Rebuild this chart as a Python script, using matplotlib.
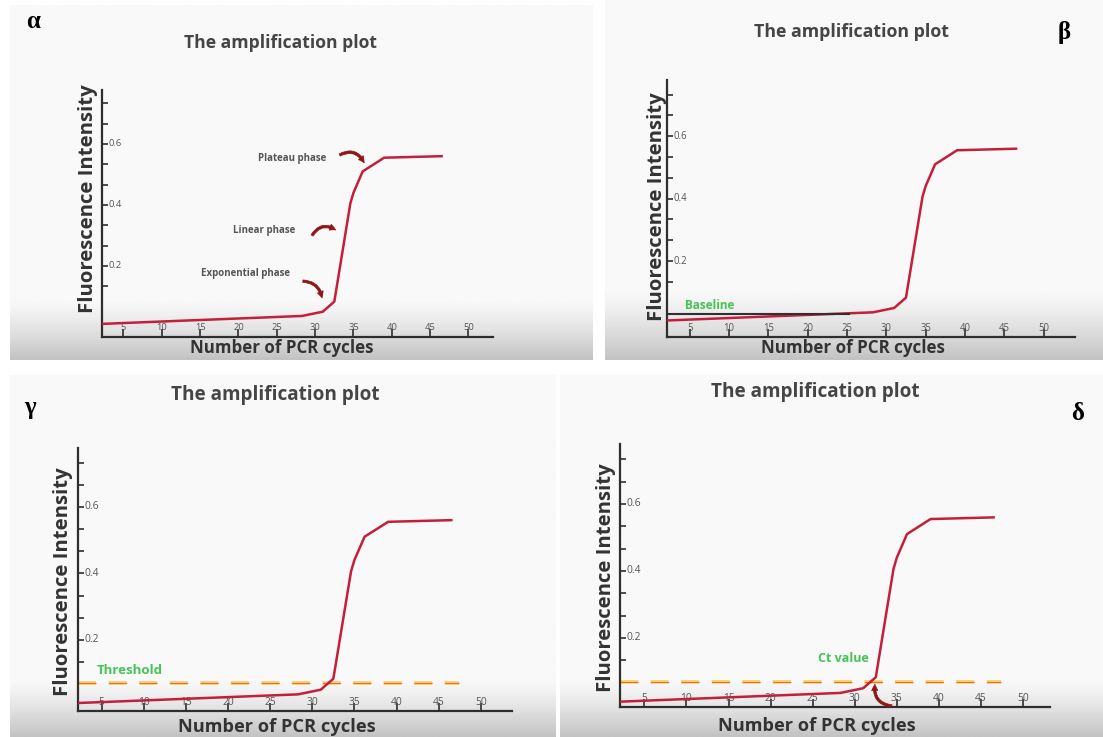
import numpy as np
import matplotlib
matplotlib.use('Agg')
import matplotlib.pyplot as plt

plt.rcParams['font.family'] = ['Open Sans', 'DejaVu Sans']
plt.rcParams['lines.scale_dashes'] = False

W, H = 1103, 737

# amplification curve (cycle, fluorescence)
cycles = [2.2, 28.3, 31.0, 32.5, 34.6, 35.0, 36.2, 39.0, 46.5]
fluor = [0.010, 0.036, 0.050, 0.083, 0.406, 0.440, 0.510, 0.555, 0.560]

xticks = [5, 10, 15, 20, 25, 30, 35, 40, 45, 50]
yticks = [2/15, 3/15, 4/15, 5/15, 6/15, 7/15, 8/15, 9/15, 10/15, 11/15]
ylabels = ['', '0.2', '', '', '0.4', '', '', '0.6', '', '']

baseline_end = 25.2
baseline_val = 0.030
threshold_val = 0.070
threshold_end = 47.4

RED = '#c41e3a'
DARKRED = '#8e1616'
GREEN = '#45c456'
AXC = '#2e2e2e'
TXT = '#454545'


def fx(x):
    return x / W


def fy(y):
    return 1 - y / H


fig = plt.figure(figsize=(W / 100, H / 100), dpi=100)

# background: screenshots with grey gradient at the bottom
bg = fig.add_axes([0, 0, 1, 1], zorder=-5)
bg.set_xlim(0, W)
bg.set_ylim(H, 0)
bg.axis('off')
shots = [(10, 593, 5, 360, 300), (605, 1103, 0, 360, 290),
         (10, 556, 375, 737, 680), (560, 1103, 375, 737, 680)]
for x0, x1, y0, y1, g0 in shots:
    n = 200
    col = np.ones(n) * 0.975
    ys = np.linspace(y0, y1, n)
    m = ys > g0
    col[m] = 0.975 - 0.21 * ((ys[m] - g0) / (y1 - g0)) ** 1.3
    img = np.repeat(col[:, None], 2, axis=1)
    bg.imshow(img, cmap='gray', vmin=0, vmax=1, extent=(x0, x1, y1, y0),
              aspect='auto', interpolation='bilinear')

panels = [
    dict(greek='α', gpos=(33, 22), box=(102, 90, 493, 337), xlim=(2.2, 53.2), ylim=(-0.033, 0.777),
         title=(280, 43), xl=(282, 348), yl=(88, 199), s=0.97),
    dict(greek='β', gpos=(1064, 32), box=(667, 80, 1075, 337), xlim=(2.1, 54.0), ylim=(-0.043, 0.78),
         title=(852, 32), xl=(853, 348), yl=(657, 207), s=0.98),
    dict(greek='γ', gpos=(30, 407), box=(78, 448, 512, 711), xlim=(2.2, 53.7), ylim=(-0.014, 0.777),
         title=(275, 395), xl=(277, 727), yl=(63, 582), s=1.05),
    dict(greek='δ', gpos=(1078, 414), box=(620, 444, 1050, 707), xlim=(2.1, 53.2), ylim=(-0.006, 0.779),
         title=(815, 392), xl=(817, 726), yl=(606, 578), s=1.05),
]

for i, p in enumerate(panels):
    x0, yt, x1, yb = p['box']
    s = p['s']
    ax = fig.add_axes([fx(x0), fy(yb), (x1 - x0) / W, (yb - yt) / H])
    ax.set_facecolor('none')
    ax.set_xlim(*p['xlim'])
    ax.set_ylim(*p['ylim'])
    for sp in ['top', 'right']:
        ax.spines[sp].set_visible(False)
    for sp in ['left', 'bottom']:
        ax.spines[sp].set_color(AXC)
        ax.spines[sp].set_linewidth(1.6)

    ax.set_xticks(xticks)
    ax.set_xticklabels([str(t) for t in xticks])
    ax.set_yticks(yticks)
    ax.set_yticklabels(ylabels)
    ax.tick_params(axis='x', direction='in', length=6, width=1.2, color=AXC,
                   pad=-10, labelsize=7 * s, labelcolor='#555555')
    ax.tick_params(axis='y', direction='in', length=4, width=1.2, color=AXC,
                   pad=-4.5, labelsize=7 * s, labelcolor='#555555')
    for lab in ax.get_yticklabels():
        lab.set_ha('left')
        lab.set_va('center')

    # threshold (panels γ, δ)
    if i >= 2:
        ax.plot([p['xlim'][0], threshold_end], [threshold_val, threshold_val],
                color='#f5cd58', lw=2.6, dashes=(13, 9), zorder=2, solid_capstyle='butt')
        ax.plot([p['xlim'][0], threshold_end], [threshold_val, threshold_val],
                color='#e2684e', lw=0.7, dashes=(13, 9), zorder=2)

    ax.plot(cycles, fluor, color=RED, lw=1.8, zorder=3, solid_joinstyle='round')

    if i == 0:
        notes = [('Plateau phase', (27.0, 0.554), (33.2, 0.564), (36.4, 0.538), -0.5),
                 ('Linear phase', (23.4, 0.315), (29.6, 0.300), (32.7, 0.318), -0.5),
                 ('Exponential phase', (20.9, 0.174), (28.4, 0.150), (30.9, 0.095), -0.4)]
        for txt, tp, a0, a1, rad in notes:
            ax.text(tp[0], tp[1], txt, ha='center', va='center', fontsize=7,
                    fontweight='bold', color='#555555')
            ax.annotate('', xy=a1, xytext=a0,
                        arrowprops=dict(arrowstyle='simple,head_width=0.45,head_length=0.45,tail_width=0.18',
                                        connectionstyle='arc3,rad=%s' % rad,
                                        color=DARKRED, lw=0.5, shrinkA=0, shrinkB=0))
    if i == 1:
        ax.plot([p['xlim'][0], baseline_end], [baseline_val, baseline_val],
                color='#303030', lw=1.5, zorder=4)
        ax.text(4.4, 0.057, 'Baseline', ha='left', va='center', fontsize=8.5,
                fontweight='bold', color=GREEN)
    if i == 2:
        ax.text(4.4, 0.107, 'Threshold', ha='left', va='center', fontsize=9.5,
                fontweight='bold', color=GREEN)
    if i == 3:
        ax.text(28.6, 0.140, 'Ct value', ha='center', va='center', fontsize=9,
                fontweight='bold', color=GREEN)
        ax.annotate('', xy=(32.4, 0.062), xytext=(34.4, -0.003), annotation_clip=False,
                    arrowprops=dict(arrowstyle='simple,head_width=0.45,head_length=0.45,tail_width=0.18',
                                    connectionstyle='arc3,rad=-0.5',
                                    color=DARKRED, lw=0.5, shrinkA=0, shrinkB=0))

    fig.text(fx(p['title'][0]), fy(p['title'][1]), 'The amplification plot', ha='center',
             va='center', fontsize=13 * s, fontweight='bold', color=TXT)
    fig.text(fx(p['xl'][0]), fy(p['xl'][1]), 'Number of PCR cycles', ha='center',
             va='center', fontsize=12.5 * s, fontweight='bold', color='#333333')
    fig.text(fx(p['yl'][0]), fy(p['yl'][1]), 'Fluorescence Intensity', ha='center',
             va='center', rotation=90, fontsize=14.6, fontweight='bold', color='#333333')
    fig.text(fx(p['gpos'][0]), fy(p['gpos'][1]), p['greek'], ha='center', va='center',
             fontsize=18, fontweight='bold', family=['Liberation Serif', 'DejaVu Serif'],
             color='black')

fig.savefig('out.png', dpi=100)
